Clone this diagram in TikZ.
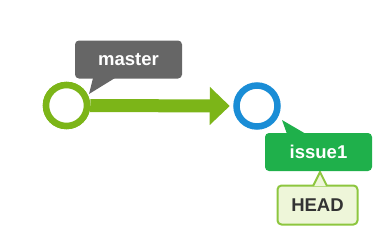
\documentclass[tikz,border=0pt]{standalone}
\usepackage{fontspec}
\setmainfont{Liberation Sans}
\usetikzlibrary{arrows.meta}
\definecolor{commitgreen}{HTML}{7CB518}
\definecolor{commitblue}{HTML}{1A8DD6}
\definecolor{taggray}{HTML}{666666}
\definecolor{branchgreen}{HTML}{1FB04B}
\definecolor{headfill}{HTML}{EEF6D9}
\definecolor{headline}{HTML}{8DC63F}
\definecolor{headtext}{HTML}{333333}
\tikzset{
  commit/.style={circle, fill=white, line width=6.5pt, minimum size=41pt, inner sep=0pt},
  tagbox/.style={rounded corners=4pt, text=white, font=\bfseries\fontsize{18.5}{20}\selectfont,
                 inner sep=0pt, minimum height=38pt},
}
\begin{document}
\begin{tikzpicture}[x=1pt,y=-1pt]
  \useasboundingbox (0,0) rectangle (387,247);

  % commit positions
  \coordinate (p1) at (66.5,105.5);
  \coordinate (p2) at (257,106);

  % commits
  \node[commit, draw=commitgreen] (c1) at (p1) {};
  \node[commit, draw=commitblue] (c2) at (p2) {};

  % arrow between commits, tip resting on the blue ring
  \draw[commitgreen, line width=13pt,
        -{Triangle[length=20pt, width=37pt]}]
    (c1.east) -- ([xshift=-3.5pt]c2.west);

  % redraw the first ring over the shaft start
  \node[commit, draw=commitgreen] at (p1) {};

  % master label with pointer
  \fill[taggray] (93,78) -- (115,78) -- (89,94) -- cycle;
  \node[tagbox, fill=taggray, minimum width=107pt] (master) at (128.5,59.5) {master};

  % HEAD label with pointer (drawn first so the pointer tucks under issue1)
  \node[tagbox, fill=headfill, draw=headline, line width=2pt, text=headtext,
        minimum width=80pt, minimum height=39pt] (head) at (317.5,205) {HEAD};
  \filldraw[fill=headfill, draw=headline, line width=2pt, line join=miter]
    (313,186) -- (320,172) -- (327,186);
  \fill[headfill] (312,186.5) rectangle (328,188);

  % issue1 label with pointer
  \fill[branchgreen] (287,134) -- (306,134) -- (282,120) -- cycle;
  \node[tagbox, fill=branchgreen, minimum width=107pt] (issue) at (318.5,152) {issue1};
\end{tikzpicture}
\end{document}
